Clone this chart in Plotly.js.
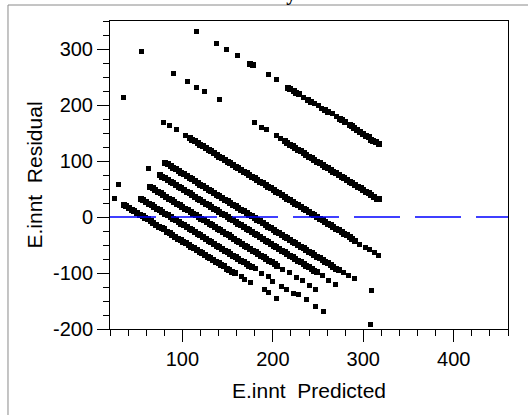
<!DOCTYPE html>
<html>
<head>
<meta charset="utf-8">
<script src="https://cdn.plot.ly/plotly-3.0.1.min.js"></script>
<style>
html,body{margin:0;padding:0;background:#fff;}
#chart{width:528px;height:415px;}
#chart .scatterlayer path.point{shape-rendering:crispEdges;}
</style>
</head>
<body>
<div id="chart"></div>
<script>
// Residual vs predicted, grouped by the diagonal bands (observed value ~ const)
var band57Pred  = [25,35,38,41,44,47,50,53,56,59,62,65,68,71,74,77,80,83,86,89,92,95,98,101,104,107,110,113,116,119,122,125,128,131,134,137,140,143,146,149,152,155,158,165,169,175,191,195,204];
var band57Resid = [33,22,19,16,13,11,7,4,1,-2,-4,-8,-11,-14,-17,-20,-22,-26,-29,-32,-35,-39,-41,-44,-47,-50,-53,-55,-59,-62,-65,-68,-72,-74,-77,-80,-83,-86,-88,-92,-95,-98,-100,-107,-112,-117,-130,-135,-146];

var band88Pred  = [29,54,57,60,63,66,69,72,75,78,81,84,87,90,93,96,99,102,105,108,111,114,117,120,123,126,129,132,135,138,141,144,147,150,153,156,159,162,165,168,171,174,177,181,188,195,200,210,215,223,228,237,247,256];
var band88Resid = [58,33,30,27,24,21,18,15,12,9,6,3,0,-3,-6,-9,-12,-15,-18,-21,-24,-27,-30,-33,-36,-39,-42,-45,-48,-51,-54,-57,-60,-63,-66,-69,-72,-75,-78,-81,-84,-87,-89,-92,-100,-106,-115,-124,-130,-136,-139,-147,-159,-168];

var band118Pred  = [64,67,70,73,76,79,82,85,88,91,94,97,100,103,106,109,112,115,118,121,124,127,130,133,136,139,142,145,148,151,154,157,160,163,166,169,172,175,178,181,184,187,190,193,196,199,202,205,211,218,226,233,240,247,308];
var band118Resid = [54,51,48,45,42,39,36,33,30,27,24,21,18,15,12,9,6,3,0,-3,-6,-9,-12,-15,-18,-21,-24,-27,-30,-33,-36,-39,-42,-45,-48,-51,-54,-57,-60,-63,-66,-69,-72,-75,-78,-81,-84,-87,-93,-99,-108,-114,-122,-129,-192];

var band150Pred  = [63,75,78,81,84,87,90,93,96,99,102,105,108,111,114,117,120,123,126,129,132,135,138,141,144,147,150,153,156,159,162,165,168,171,174,177,180,183,186,189,192,195,198,201,204,207,210,213,216,219,222,225,228,231,234,237,240,243,246,249,255,262,269];
var band150Resid = [86,75,72,69,66,63,60,57,54,51,48,45,42,39,36,33,30,27,24,21,18,15,12,9,6,3,0,-3,-6,-9,-12,-15,-18,-21,-24,-27,-30,-33,-36,-39,-42,-45,-48,-51,-54,-57,-60,-63,-66,-69,-72,-75,-78,-81,-84,-87,-90,-93,-96,-99,-105,-113,-121];

var band178Pred  = [81,84,87,90,93,96,99,102,105,108,111,114,117,120,123,126,129,132,135,138,141,144,147,150,153,156,159,162,165,168,171,174,177,180,183,186,189,192,195,198,201,204,207,210,213,216,219,222,225,228,231,234,237,240,243,246,249,252,255,258,261,264,267,270,273,278,284,290,309];
var band178Resid = [97,94,91,88,85,82,79,76,73,70,67,64,61,58,55,52,49,46,43,40,37,34,31,28,25,22,19,16,13,10,7,4,1,-2,-5,-8,-11,-14,-17,-20,-23,-26,-29,-32,-35,-38,-41,-44,-47,-50,-53,-56,-59,-62,-65,-68,-71,-74,-77,-80,-83,-86,-89,-92,-95,-99,-104,-110,-131];

var band249Pred  = [35,79,86,93,104,108,111,114,117,120,123,126,129,132,135,138,141,144,147,150,153,156,159,162,165,168,171,174,177,180,183,186,189,192,195,198,201,204,207,210,213,216,219,222,225,228,231,234,237,240,243,246,249,252,255,258,261,264,267,270,273,276,279,282,285,288,291,296,302,307,312,317];
var band249Resid = [213,169,164,157,146,141,138,135,132,129,126,123,120,117,114,111,108,105,102,99,96,93,90,87,84,81,78,75,72,69,66,63,60,57,54,51,48,45,42,39,36,33,30,27,24,21,18,15,12,9,6,3,0,-3,-6,-9,-12,-15,-18,-21,-24,-27,-30,-33,-36,-39,-42,-49,-54,-58,-64,-69];

var band348Pred  = [55,90,106,116,125,141,180,188,193,204,208,213,216,219,222,225,228,231,234,237,240,243,246,249,252,255,258,261,264,267,270,273,276,279,282,285,288,291,294,297,300,303,306,309,312,315,317];
var band348Resid = [295,257,242,232,224,210,168,159,156,145,141,135,132,129,126,123,120,117,114,111,108,105,102,99,96,93,90,87,84,81,78,75,72,69,66,63,60,57,54,51,48,45,42,39,36,33,32];

var band448Pred  = [116,138,149,161,175,178,195,204,217,219,223,226,229,234,239,242,246,250,254,258,261,266,270,274,277,280,285,287,290,293,296,300,303,306,309,311,314,317];
var band448Resid = [331,309,299,288,274,271,254,245,230,228,225,221,219,214,209,206,203,199,194,191,188,184,179,175,173,170,165,162,159,156,152,148,145,142,138,135,134,131];

var xTickVals = [100, 200, 300, 400];
var xTickText = ['100', '200', '300', '400'];
var yTickVals = [-200, -100, 0, 100, 200, 300];
var yTickText = ['-200', '-100', '0', '100', '200', '300'];

var bandsPred = [band57Pred, band88Pred, band118Pred, band150Pred, band178Pred, band249Pred, band348Pred, band448Pred];
var bandsResid = [band57Resid, band88Resid, band118Resid, band150Resid, band178Resid, band249Resid, band348Resid, band448Resid];

// overlapping runs of points look heavier than lone points
function markerSizes(pred) {
  return pred.map(function (x, i) {
    var prev = i > 0 ? pred[i - 1] : -1e9;
    var next = i < pred.length - 1 ? pred[i + 1] : 1e9;
    return (x - prev <= 3.5 || next - x <= 3.5) ? 6 : 5;
  });
}

var predAll = [], residAll = [], sizeAll = [];
bandsPred.forEach(function (p, k) {
  predAll = predAll.concat(p);
  residAll = residAll.concat(bandsResid[k]);
  sizeAll = sizeAll.concat(markerSizes(p));
});

var font = 'Liberation Sans, Arial, sans-serif';

var trace = {
  x: predAll, y: residAll, type: 'scatter', mode: 'markers',
  marker: {symbol: 'square', size: sizeAll, sizemode: 'diameter', opacity: 1, color: '#000', line: {width: 0}},
  showlegend: false, hoverinfo: 'skip', cliponaxis: true
};

var layout = {
  width: 528, height: 415,
  margin: {l: 110, r: 20, t: 21, b: 86, pad: 0},
  paper_bgcolor: '#fff', plot_bgcolor: '#fff',
  showlegend: false,
  title: {
    text: '<b>Residual by Predicted Plot</b>',
    font: {family: 'Liberation Serif, Times New Roman, serif', size: 20, color: '#000'},
    xref: 'paper', x: 0.5, xanchor: 'center',
    yref: 'container', y: 1, yanchor: 'bottom'
  },
  xaxis: {
    range: [20, 460], tickmode: 'array', tickvals: xTickVals, ticktext: xTickText,
    ticks: 'outside', ticklen: 12, tickwidth: 1, tickcolor: '#000',
    minor: {dtick: 20, tick0: 0, ticks: 'outside', ticklen: 6, tickwidth: 1, tickcolor: '#000', showgrid: false},
    showline: true, linecolor: '#000', linewidth: 1, mirror: true,
    showgrid: false, zeroline: false,
    tickfont: {family: font, size: 20, color: '#000'},
    title: {text: 'E.innt\u00a0 Predicted', font: {family: font, size: 21, color: '#000'}, standoff: 14}
  },
  yaxis: {
    range: [-200, 350], tickmode: 'array', tickvals: yTickVals, ticktext: yTickText,
    ticks: 'outside', ticklen: 12, tickwidth: 1, tickcolor: '#000',
    minor: {dtick: 25, tick0: 0, ticks: 'outside', ticklen: 6, tickwidth: 1, tickcolor: '#000', showgrid: false},
    showline: true, linecolor: '#000', linewidth: 1, mirror: true,
    showgrid: false, zeroline: false,
    tickfont: {family: font, size: 20, color: '#000'},
    title: {text: 'E.innt\u00a0 Residual', font: {family: font, size: 21, color: '#000'}, standoff: 4}
  },
  shapes: [
    {type: 'line', xref: 'paper', yref: 'y', x0: 0, x1: 1, y0: 0, y1: 0,
     line: {color: '#0000ff', width: 1.5, dash: '46px,15px'}, layer: 'above'},
    {type: 'rect', xref: 'paper', yref: 'paper', x0: -0.2563, x1: 1.2, y0: -0.4, y1: 1.0519,
     line: {color: '#8a8a8a', width: 1}, fillcolor: 'rgba(0,0,0,0)', layer: 'below'}
  ]
};

Plotly.newPlot('chart', [trace], layout, {displayModeBar: false, staticPlot: true});
</script>
</body>
</html>
